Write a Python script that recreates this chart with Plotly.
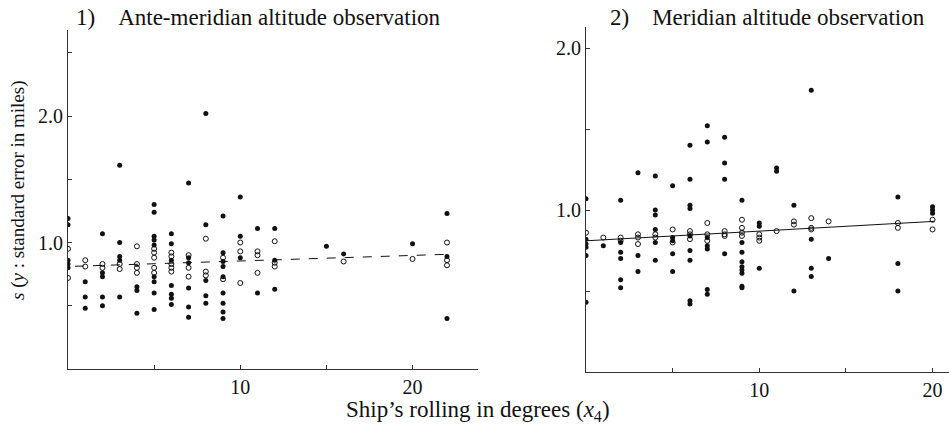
import plotly.graph_objects as go

# ---------------- data ----------------
# 1) Ante-meridian altitude observation
am_cols = [0, 1, 2, 3, 4, 5, 6, 7, 8, 9, 10, 11, 12, 15, 16, 20, 22]
am_filled = [
    [1.19, 1.14, 0.86, 0.83, 0.80],
    [0.69, 0.57, 0.48],
    [1.07, 0.76, 0.73, 0.57, 0.50],
    [1.61, 1.00, 0.89, 0.86, 0.57],
    [0.65, 0.62, 0.44],
    [1.30, 1.24, 1.05, 1.02, 0.98, 0.73, 0.69, 0.60, 0.47],
    [1.07, 0.99, 0.86, 0.66, 0.59, 0.56, 0.51],
    [1.47, 0.88, 0.84, 0.64, 0.49, 0.41],
    [2.02, 1.14, 0.70, 0.58, 0.52],
    [1.21, 0.92, 0.85, 0.81, 0.73, 0.60, 0.52, 0.45, 0.40],
    [1.36, 1.05, 0.88],
    [1.11, 0.60],
    [1.11, 0.86, 0.63],
    [0.97],
    [0.91],
    [0.99],
    [1.23, 0.89, 0.40],
]
am_open = [
    [0.95, 0.72],
    [0.86, 0.81],
    [0.83, 0.80],
    [0.83, 0.79],
    [0.97, 0.83, 0.80, 0.76],
    [0.95, 0.92, 0.88, 0.80, 0.76],
    [0.92, 0.89, 0.83, 0.80, 0.77],
    [0.90, 0.80, 0.73],
    [1.03, 0.77, 0.74],
    [0.88, 0.71],
    [1.00, 0.93, 0.68],
    [0.93, 0.90, 0.76],
    [1.01, 0.84, 0.81],
    [],
    [0.85],
    [0.87],
    [1.00, 0.86, 0.82],
]
am_fit_x = [0.4, 22.3]
am_fit_y = [0.812, 0.908]

# 2) Meridian altitude observation
mer_cols = [0, 1, 2, 3, 4, 5, 6, 7, 8, 9, 10, 11, 12, 13, 14, 18, 20]
mer_filled = [
    [1.07, 0.82, 0.79, 0.77, 0.72, 0.43],
    [0.78],
    [1.06, 0.80, 0.74, 0.70, 0.57, 0.52],
    [1.23, 0.72, 0.62],
    [1.21, 1.00, 0.97, 0.88, 0.80, 0.69],
    [1.15, 0.83, 0.81, 0.73, 0.62],
    [1.40, 1.19, 1.03, 1.01, 0.84, 0.75, 0.69, 0.44, 0.42],
    [1.52, 1.42, 0.83, 0.78, 0.76, 0.51, 0.48],
    [1.45, 1.29, 1.19, 0.73],
    [1.06, 0.80, 0.74, 0.68, 0.65, 0.63, 0.61, 0.53, 0.52],
    [0.92, 0.90, 0.64],
    [1.26, 1.24],
    [1.03, 0.50],
    [1.74, 0.82, 0.64, 0.59],
    [0.70],
    [1.08, 0.67, 0.50],
    [1.02, 1.00, 0.98],
]
mer_open = [
    [0.86],
    [0.83],
    [0.83, 0.81],
    [0.85, 0.83, 0.79],
    [0.85, 0.83],
    [0.88, 0.80],
    [0.87, 0.85, 0.82],
    [0.92, 0.85, 0.81],
    [0.87, 0.85, 0.84],
    [0.94, 0.89, 0.86, 0.84],
    [0.85, 0.83, 0.81],
    [0.87],
    [0.93, 0.91],
    [0.95, 0.89, 0.88],
    [0.93],
    [0.92, 0.89],
    [0.94, 0.88],
]
mer_fit_x = [0.0, 20.1]
mer_fit_y = [0.81, 0.93]

x_tick_vals = [10, 20]
x_tick_text = ["10", "20"]
x_minor_vals = [5, 15]
y_tick_vals = [1.0, 2.0]
y_tick_text = ["1.0", "2.0"]
y_minor_vals = [0.5, 1.5, 2.5]


def expand(cols, groups):
    xs, ys = [], []
    for c, g in zip(cols, groups):
        for v in g:
            xs.append(c)
            ys.append(v)
    return xs, ys


FONT = "Liberation Serif, Times New Roman, DejaVu Serif, serif"
INK = "#111111"

fig = go.Figure()

panels = [
    (am_cols, am_filled, am_open, am_fit_x, am_fit_y, "x", "y", "dash"),
    (mer_cols, mer_filled, mer_open, mer_fit_x, mer_fit_y, "x2", "y2", "solid"),
]
for cols, filled, opn, fx, fy, xa, ya, dash in panels:
    fig.add_trace(go.Scatter(x=fx, y=fy, mode="lines", xaxis=xa, yaxis=ya,
                             line=dict(color=INK, width=1, dash=dash),
                             showlegend=False, hoverinfo="skip"))
    ox, oy = expand(cols, opn)
    fig.add_trace(go.Scatter(x=ox, y=oy, mode="markers", xaxis=xa, yaxis=ya,
                             marker=dict(symbol="circle-open", size=5, color=INK,
                                         line=dict(width=1, color=INK)),
                             showlegend=False))
    px_, py_ = expand(cols, filled)
    fig.add_trace(go.Scatter(x=px_, y=py_, mode="markers", xaxis=xa, yaxis=ya,
                             marker=dict(symbol="circle", size=5, color=INK),
                             showlegend=False))

W, H = 949, 427


def xdom(a, b):
    return [a / W, b / W]


def ydom(bottom_px, top_px):
    return [(H - bottom_px) / H, (H - top_px) / H]


axis_common = dict(showline=True, linecolor="#333333", linewidth=1,
                   ticks="inside", ticklen=4, tickcolor="#333333",
                   showgrid=False, zeroline=False,
                   tickfont=dict(family=FONT, size=20, color=INK))
minor_common = dict(ticks="inside", ticklen=4, tickcolor="#333333", showgrid=False)

fig.update_layout(
    width=W, height=H,
    margin=dict(l=0, r=0, t=0, b=0),
    paper_bgcolor="white", plot_bgcolor="white",
    xaxis=dict(domain=xdom(68, 478), range=[0, 23.8], anchor="y",
               tickvals=x_tick_vals, ticktext=x_tick_text,
               minor=dict(tickvals=x_minor_vals, **minor_common), **axis_common),
    yaxis=dict(domain=ydom(369, 30), range=[0, 2.68], anchor="x",
               tickvals=y_tick_vals, ticktext=y_tick_text,
               minor=dict(tickvals=y_minor_vals, **minor_common), **axis_common),
    xaxis2=dict(domain=xdom(586, 949), range=[0, 20.95], anchor="y2",
                tickvals=x_tick_vals, ticktext=x_tick_text,
                minor=dict(tickvals=x_minor_vals, **minor_common), **axis_common),
    yaxis2=dict(domain=ydom(372, 27), range=[0, 2.13], anchor="x2",
                tickvals=y_tick_vals, ticktext=y_tick_text,
                minor=dict(tickvals=y_minor_vals, **minor_common), **axis_common),
)

fig.add_annotation(text="1)\u2003Ante-meridian altitude observation",
                   xref="paper", yref="paper", x=74 / W, y=1 - 17 / H,
                   xanchor="left", yanchor="middle", showarrow=False,
                   font=dict(family=FONT, size=23, color=INK))
fig.add_annotation(text="2)\u2003Meridian altitude observation",
                   xref="paper", yref="paper", x=608 / W, y=1 - 17 / H,
                   xanchor="left", yanchor="middle", showarrow=False,
                   font=dict(family=FONT, size=23, color=INK))
fig.add_annotation(text="Ship\u2019s rolling in degrees (<i>x</i><sub>4</sub>)",
                   xref="paper", yref="paper", x=478 / W, y=1 - 411 / H,
                   xanchor="center", yanchor="middle", showarrow=False,
                   font=dict(family=FONT, size=23, color=INK))
fig.add_annotation(text="<i>s</i> (<i>y</i> : standard error in miles)",
                   xref="paper", yref="paper", x=18 / W, y=1 - 190 / H,
                   xanchor="center", yanchor="middle", showarrow=False,
                   textangle=-90,
                   font=dict(family=FONT, size=19, color=INK))

fig.write_html("out.html")
